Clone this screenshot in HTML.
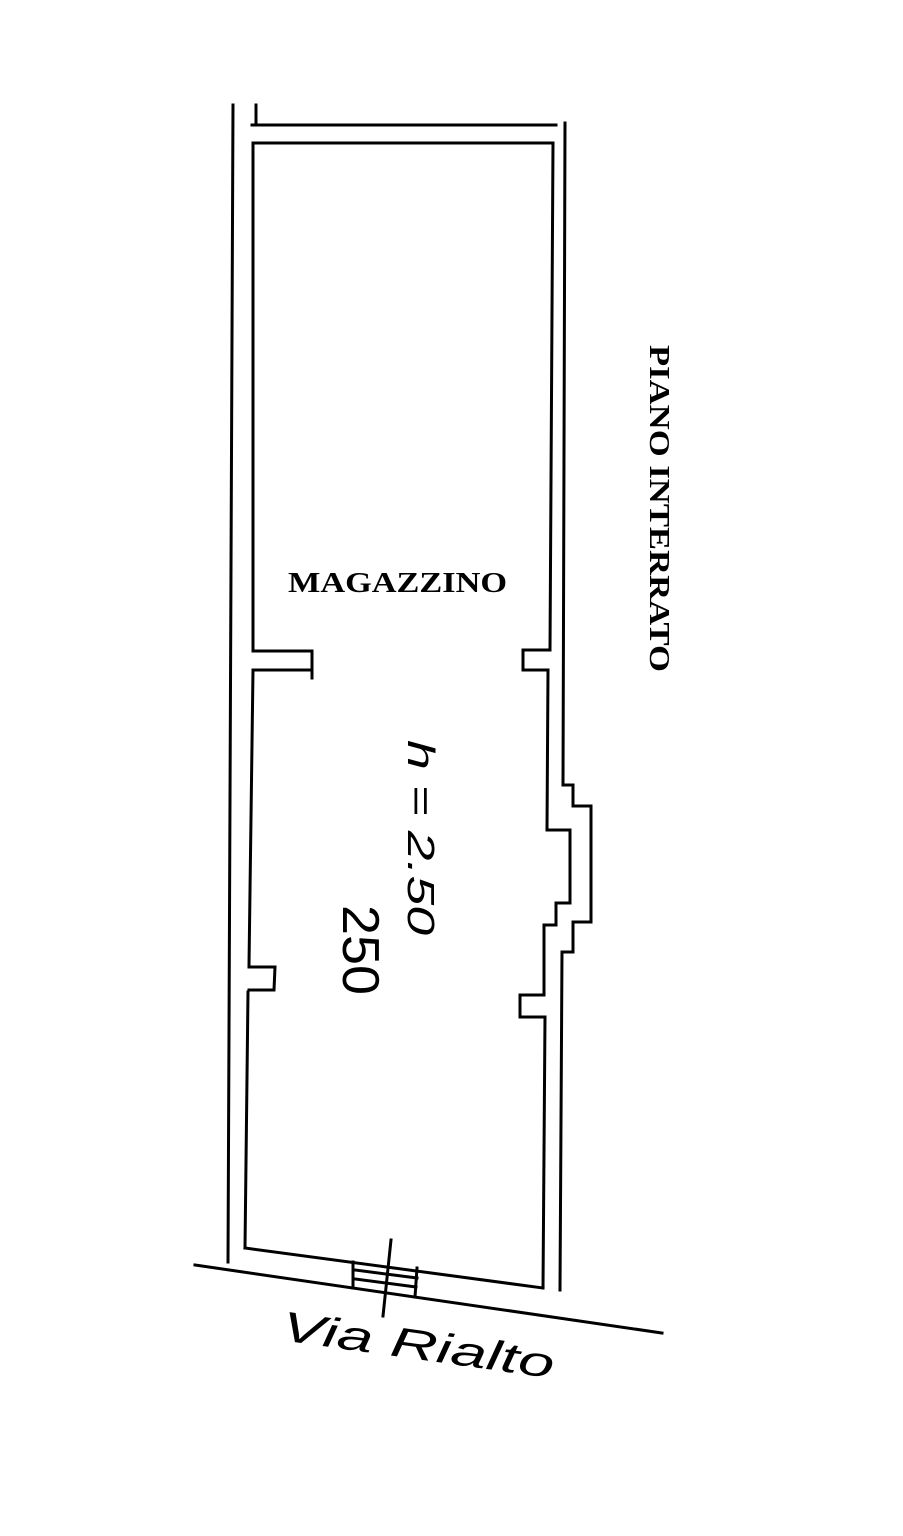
<!DOCTYPE html>
<html><head><style>
html,body{margin:0;padding:0;background:#fff;}
svg{display:block;}
</style></head><body>
<svg width="903" height="1536" viewBox="0 0 903 1536" xmlns="http://www.w3.org/2000/svg">
<g fill="none" stroke="#000" stroke-width="3" stroke-linecap="square" stroke-linejoin="miter">
<path d="M233 105 L228 1262"/>
<path d="M256 105 L256 124 M252 125 L556 125"/>
<path d="M256 143 L553 143"/>
<path d="M253 143 L253 651 M253 670 L249 965 M248 992 L245 1248"/>
<path d="M253 651 L312 651 L312 678 M253 670 L312 670"/>
<path d="M249 967 L275 967 L274 990 L249 990"/>
<path d="M245 1248 L543 1288"/>
<path d="M195 1265 L662 1333"/>
<path d="M553 143 L550 650 L523 650 L523 670 L548 670 L547 830 L570 830 L570 903 L556 903 L556 925 L544 925 L544 995 L520 995 L520 1017 L545 1017 L543 1288"/>
<path d="M565 123 L563 785 L573 785 L573 806 L591 806 L591 922 L573 922 L573 952 L562 952 L560 1290"/>
<path d="M353 1262 L353 1288 M417 1268 L415 1297 M355 1270 L417 1278 M355 1279 L416 1287 M391 1240 L383 1316"/>
</g>
<text x="288" y="592" textLength="219" lengthAdjust="spacingAndGlyphs" font-family="Liberation Serif, serif" font-weight="bold" font-size="29">MAGAZZINO</text>
<text transform="translate(650 345) rotate(90)" textLength="327" lengthAdjust="spacingAndGlyphs" font-family="Liberation Serif, serif" font-weight="bold" font-size="29">PIANO INTERRATO</text>
<text transform="translate(408 740) rotate(90)" textLength="195" lengthAdjust="spacingAndGlyphs" font-family="Liberation Sans, sans-serif" font-style="italic" font-size="38">h = 2.50</text>
<text transform="translate(343 905) rotate(90)" textLength="90" lengthAdjust="spacingAndGlyphs" font-family="Liberation Sans, sans-serif" font-size="52">250</text>
<text transform="translate(280 1340) rotate(8)" textLength="275" lengthAdjust="spacingAndGlyphs" font-family="Liberation Sans, sans-serif" font-style="italic" font-size="42">Via  Rialto</text>
</svg>
</body></html>
